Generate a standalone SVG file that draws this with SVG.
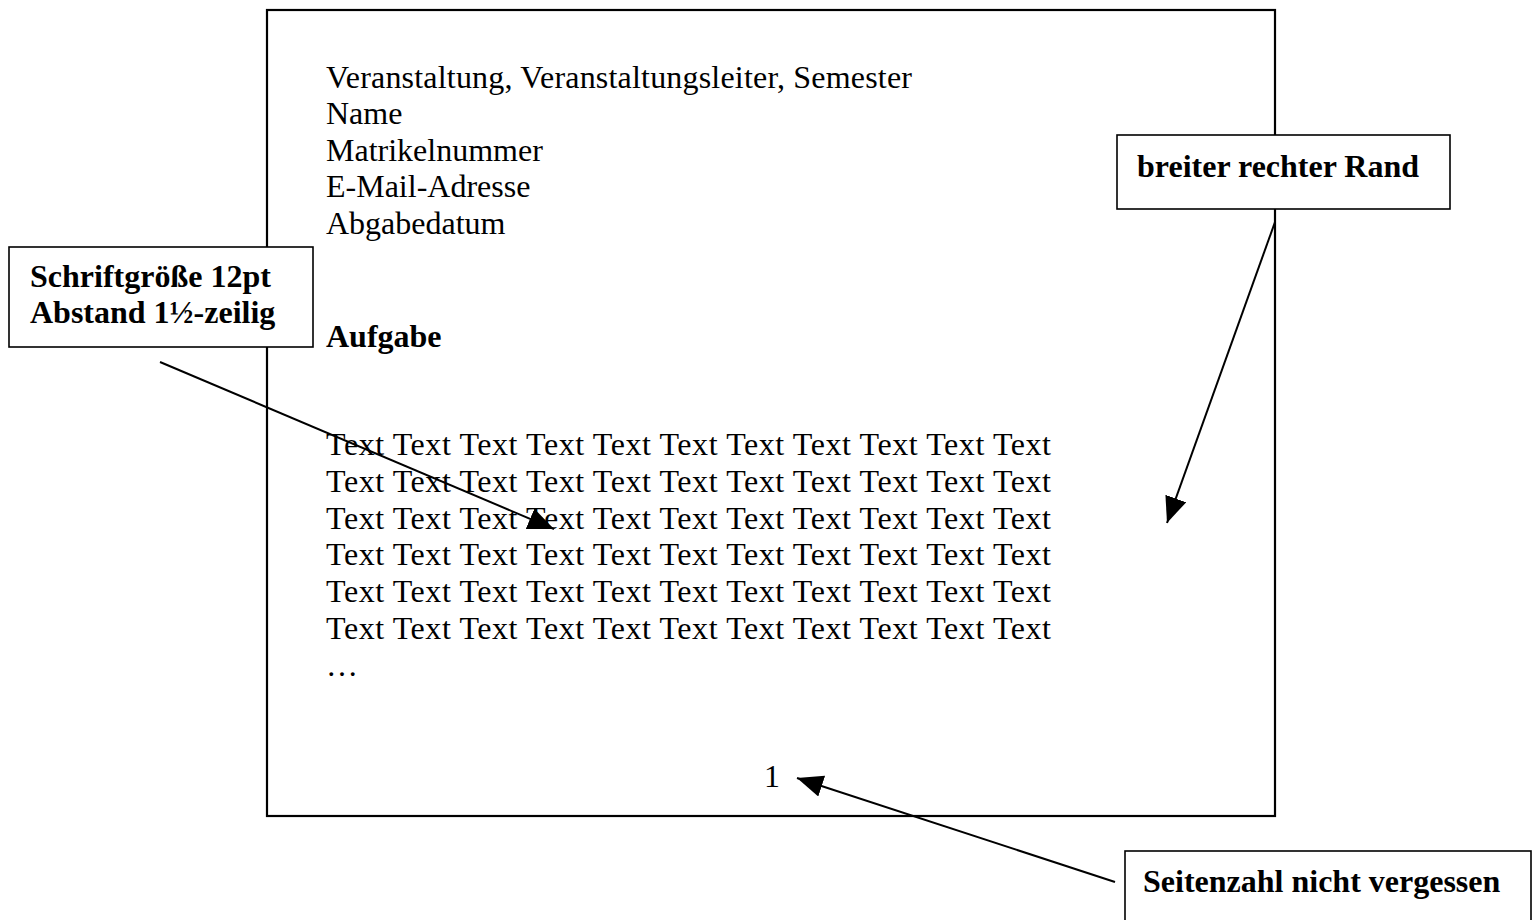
<svg xmlns="http://www.w3.org/2000/svg" width="1533" height="920" viewBox="0 0 1533 920">
<style>
.pg{fill:#fff;stroke:#000;stroke-width:2.2}
.box{fill:#fff;stroke:#000;stroke-width:1.6}
.t{font-family:"Liberation Serif","Times New Roman",serif;font-size:32px;fill:#000}
.b{font-weight:bold}
.c{stroke:#000;stroke-width:2;fill:none}
</style>
<defs>
<marker id="ah" markerUnits="userSpaceOnUse" markerWidth="30" markerHeight="24" refX="26" refY="11" orient="auto">
<path d="M0,0 L26,11 L0,22 Z" fill="#000"/>
</marker>
</defs>
<rect width="1533" height="920" fill="#fff"/>
<g id="page">
<rect class="pg" x="267" y="10" width="1008" height="806"/>
<text class="t" x="326" y="88" textLength="586" lengthAdjust="spacing">Veranstaltung, Veranstaltungsleiter, Semester</text>
<text class="t" x="326" y="124">Name</text>
<text class="t" x="326" y="161">Matrikelnummer</text>
<text class="t" x="326" y="197">E-Mail-Adresse</text>
<text class="t" x="326" y="234">Abgabedatum</text>
<text class="t b" x="326" y="347">Aufgabe</text>
<text class="t" x="326" y="455" textLength="725" lengthAdjust="spacing">Text Text Text Text Text Text Text Text Text Text Text</text>
<text class="t" x="326" y="492" textLength="725" lengthAdjust="spacing">Text Text Text Text Text Text Text Text Text Text Text</text>
<text class="t" x="326" y="529" textLength="725" lengthAdjust="spacing">Text Text Text Text Text Text Text Text Text Text Text</text>
<text class="t" x="326" y="565" textLength="725" lengthAdjust="spacing">Text Text Text Text Text Text Text Text Text Text Text</text>
<text class="t" x="326" y="602" textLength="725" lengthAdjust="spacing">Text Text Text Text Text Text Text Text Text Text Text</text>
<text class="t" x="326" y="639" textLength="725" lengthAdjust="spacing">Text Text Text Text Text Text Text Text Text Text Text</text>
<text class="t" x="326" y="676">…</text>
<text class="t" x="764" y="787">1</text>
</g>
<g id="callout-font">
<rect class="box" x="9" y="247" width="304" height="100"/>
<text class="t b" x="30" y="287">Schriftgröße 12pt</text>
<text class="t b" x="30" y="323">Abstand 1½-zeilig</text>
</g>
<g id="callout-margin">
<rect class="box" x="1117" y="135" width="333" height="74"/>
<text class="t b" x="1137" y="177">breiter rechter Rand</text>
</g>
<g id="callout-pagenum">
<rect class="box" x="1125" y="851" width="406" height="80"/>
<text class="t b" x="1143" y="892">Seitenzahl nicht vergessen</text>
</g>
<g id="connectors">
<line class="c" x1="160" y1="362" x2="554" y2="529" marker-end="url(#ah)"/>
<line class="c" x1="1275" y1="222" x2="1167" y2="523" marker-end="url(#ah)"/>
<line class="c" x1="1115" y1="882" x2="797" y2="778" marker-end="url(#ah)"/>
</g>
</svg>
